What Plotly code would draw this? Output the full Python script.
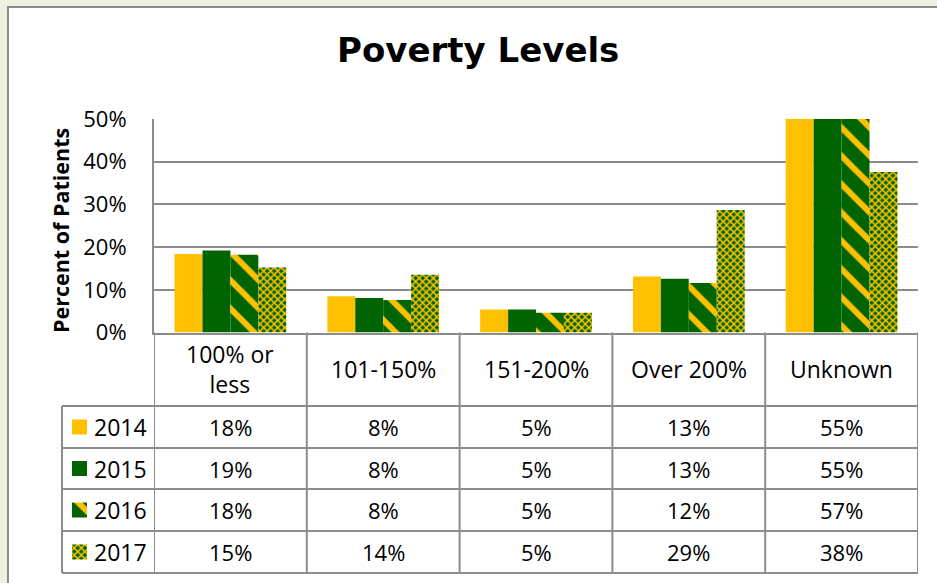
import plotly.graph_objects as go

W, H = 937, 583

categories = ["100% or<br>less", "101-150%", "151-200%", "Over 200%", "Unknown"]
years = ["2014", "2015", "2016", "2017"]
v2014 = [18.4, 8.5, 5.4, 13.1, 55]
v2015 = [19.2, 8.1, 5.4, 12.6, 55]
v2016 = [18.2, 7.6, 4.6, 11.6, 57]
v2017 = [15.2, 13.5, 4.6, 28.7, 37.6]
series = [v2014, v2015, v2016, v2017]
y_ticks = [0, 10, 20, 30, 40, 50]
y_ticktext = ["0%", "10%", "20%", "30%", "40%", "50%"]

YELLOW = "#FFC000"
GREEN = "#006400"
GRAY = "#8C8C8C"
BG = "#EBF1DE"
FONT = "Open Sans"

styles = [
    dict(color=YELLOW, pattern=dict(shape="")),
    dict(color=GREEN, pattern=dict(shape="")),
    dict(color=GREEN, pattern=dict(shape="\\", fgcolor=YELLOW, bgcolor=GREEN,
                                   fillmode="replace", size=20, solidity=0.3)),
    dict(color=GREEN, pattern=dict(shape="x", fgcolor=YELLOW, bgcolor=GREEN,
                                   fillmode="replace", size=5, solidity=0.5)),
]


def px(x):
    return x / W


def py(y):
    return 1 - y / H


# pixel layout
PL, PR, PT, PB = 154, 918, 119, 332.5
TBL_HEAD_B = 406
ROWS = [406, 448, 489, 531, 573]
KEY_L = 62

fig = go.Figure()

for yr, vals, st in zip(years, series, styles):
    fig.add_trace(go.Bar(
        x=categories, y=vals, name=yr,
        marker=dict(color=st["color"], pattern=st["pattern"], line=dict(width=0)),
        showlegend=False, hoverinfo="skip",
    ))

# legend keys drawn as bars on an auxiliary pixel-space axis
for i, (yr, st) in enumerate(zip(years, styles)):
    row_c = (ROWS[i] + ROWS[i + 1]) / 2
    fig.add_trace(go.Bar(
        x=[79.5], y=[15], base=[row_c - 7.5], width=[15], offset=-7.5,
        marker=dict(color=st["color"], pattern=st["pattern"], line=dict(width=0)),
        xaxis="x2", yaxis="y2", showlegend=False, hoverinfo="skip",
    ))

shapes = []
# chart area (white) with border
shapes.append(dict(type="rect", xref="paper", yref="paper", x0=px(8), x1=px(W + 20),
                   y0=py(H + 20), y1=py(7),
                   fillcolor="white", line=dict(color=GRAY, width=2), layer="below"))
# horizontal table lines
for yy in ROWS:
    shapes.append(dict(type="line", xref="paper", yref="paper", x0=px(KEY_L), x1=px(PR),
                       y0=py(yy), y1=py(yy), line=dict(color=GRAY, width=2)))
# key column left edge
shapes.append(dict(type="line", xref="paper", yref="paper", x0=px(KEY_L), x1=px(KEY_L),
                   y0=py(ROWS[0]), y1=py(ROWS[-1]), line=dict(color=GRAY, width=2)))
# column separators at category boundaries
for k in range(len(categories) + 1):
    shapes.append(dict(type="line", xref="x", yref="paper", x0=k - 0.5, x1=k - 0.5,
                       y0=py(PB), y1=py(ROWS[-1]), line=dict(color=GRAY, width=2)))

annotations = []
annotations.append(dict(text="<b>Poverty Levels</b>", xref="paper", yref="paper",
                        x=px(477.5), y=py(50), xanchor="center", yanchor="middle",
                        showarrow=False, font=dict(family="DejaVu Sans", size=34, color="black")))
annotations.append(dict(text="<b>Percent of Patients</b>", xref="paper", yref="paper",
                        x=px(60), y=py(231), xanchor="center", yanchor="middle", textangle=-90,
                        showarrow=False, font=dict(family=FONT, size=21.5, color="black")))
# header row (category names)
for k, c in enumerate(categories):
    annotations.append(dict(text=c, xref="x", yref="paper", x=k, y=py((PB + TBL_HEAD_B) / 2),
                            xanchor="center", yanchor="middle", showarrow=False,
                            font=dict(family=FONT, size=23, color="black")))
# data rows
for i, (yr, vals) in enumerate(zip(years, series)):
    row_c = (ROWS[i] + ROWS[i + 1]) / 2
    annotations.append(dict(text=yr, xref="paper", yref="paper", x=px(92), y=py(row_c),
                            xanchor="left", yanchor="middle", showarrow=False,
                            font=dict(family=FONT, size=23, color="black")))
    for k, v in enumerate(vals):
        annotations.append(dict(text=f"{round(v)}%", xref="x", yref="paper", x=k, y=py(row_c),
                                xanchor="center", yanchor="middle", showarrow=False,
                                font=dict(family=FONT, size=22, color="black")))

fig.update_layout(
    width=W, height=H,
    margin=dict(l=0, r=0, t=0, b=0, autoexpand=False),
    paper_bgcolor=BG,
    plot_bgcolor="rgba(0,0,0,0)",
    barmode="group", bargap=0.269, bargroupgap=0,
    shapes=shapes, annotations=annotations,
    xaxis=dict(domain=[px(PL), px(PR)], range=[-0.5, 4.5], showticklabels=False,
               showgrid=False, showline=True, linecolor=GRAY, linewidth=2, ticks="",
               zeroline=False, fixedrange=True, automargin=False),
    yaxis=dict(domain=[py(PB), py(PT)], range=[0, 50], tickvals=y_ticks, ticktext=y_ticktext,
               showgrid=True, gridcolor=GRAY, gridwidth=2, showline=True, linecolor=GRAY,
               linewidth=2, zeroline=False, ticks="", ticklabelstandoff=21,
               tickfont=dict(family=FONT, size=22, color="black"), fixedrange=True,
               automargin=False),
    xaxis2=dict(domain=[0, 1], range=[0, W], visible=False, anchor="y2", fixedrange=True,
                automargin=False),
    yaxis2=dict(domain=[0, 1], range=[H, 0], visible=False, anchor="x2", fixedrange=True,
                automargin=False),
)

fig.write_html(
    "out.html",
    config={"displayModeBar": False},
    post_script=f"document.body.style.margin='0';document.body.style.background='{BG}';",
)
